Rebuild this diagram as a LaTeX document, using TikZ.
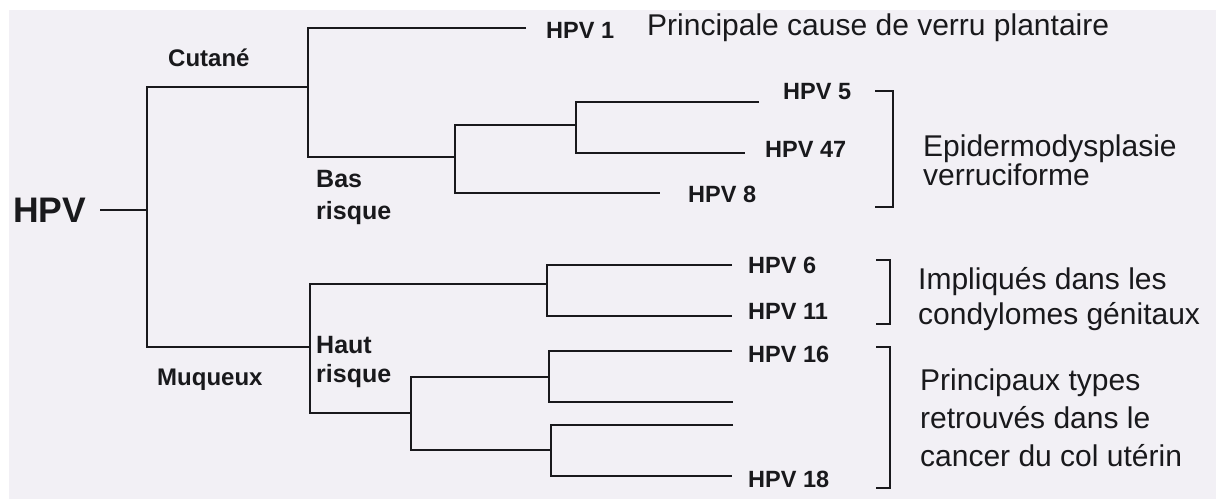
\documentclass[tikz,border=0pt]{standalone}
\usepackage{fontspec}
\setmainfont{Liberation Sans}
\definecolor{paper}{RGB}{242,240,245}
\definecolor{ink}{RGB}{25,25,28}
\tikzset{
  br/.style={draw=ink, line width=2pt},
  leaflab/.style={inner sep=0pt, anchor=base west, text=ink, font=\fontsize{23.5}{28}\selectfont\bfseries},
  grplab/.style={inner sep=0pt, anchor=base west, text=ink, font=\fontsize{24}{28}\selectfont\bfseries},
  risklab/.style={inner sep=0pt, anchor=base west, text=ink, font=\fontsize{25}{30}\selectfont\bfseries},
  desc/.style={inner sep=0pt, anchor=base west, text=ink, font=\fontsize{30}{36}\selectfont},
  rootlab/.style={inner sep=0pt, anchor=base west, text=ink, font=\fontsize{35.5}{40}\selectfont\bfseries}
}
\begin{document}
\begin{tikzpicture}[x=1pt,y=-1pt]
\useasboundingbox (0,0) rectangle (1216,499);
\fill[white] (0,0) rectangle (1216,499);
\fill[paper] (9,10) rectangle (1216,499);

% root
\node[rootlab] (hpv) at (13,222) {HPV};
\coordinate (r0) at (100,210);
\coordinate (n0) at (147,210);
\coordinate (n0t) at (147,87);
\coordinate (n0b) at (147,347);
\draw[br] (r0) -- (n0);

% cutane
\coordinate (n1) at (308,87);
\coordinate (n1t) at (308,28);
\coordinate (n1b) at (308,157);
\coordinate (e1) at (526,28);
\coordinate (n2) at (455,157);
\coordinate (n2t) at (455,125);
\coordinate (n2b) at (455,193);
\coordinate (n3) at (576,125);
\coordinate (n3t) at (576,102);
\coordinate (n3b) at (576,153);
\coordinate (e5) at (759,102);
\coordinate (e47) at (745,153);
\coordinate (e8) at (660,193);

% muqueux
\coordinate (n4) at (310,347);
\coordinate (n4t) at (310,284);
\coordinate (n4b) at (310,413);
\coordinate (n5) at (547,284);
\coordinate (n5b) at (547,316);
\coordinate (e6) at (732,265);
\coordinate (e11) at (732,316);
\coordinate (n6) at (411,413);
\coordinate (n6t) at (411,377);
\coordinate (n6b) at (411,450);
\coordinate (n7) at (549,377);
\coordinate (n7b) at (549,402);
\coordinate (e16) at (732,351);
\coordinate (ex1) at (733,402);
\coordinate (n8) at (551,450);
\coordinate (n8b) at (551,476);
\coordinate (ex2) at (733,425);
\coordinate (e18) at (732,476);

\draw[br] (n1) -- (n0t) -- (n0b) -- (n4);
\draw[br] (e1) -| (n1b) -- (n2);
\draw[br] (n3) -- (n2t) -- (n2b) -- (e8);
\draw[br] (e5) -| (n3b) -- (e47);
\draw[br] (n5) -- (n4t) -- (n4b) -- (n6);
\draw[br] (e6) -| (n5b) -- (e11);
\draw[br] (n7) -- (n6t) -- (n6b) -- (n8);
\draw[br] (e16) -| (n7b) -- (ex1);
\draw[br] (ex2) -| (n8b) -- (e18);

% group labels
\node[grplab] (cut) at (168,66) {Cutané};
\node[grplab] (muq) at (157,385) {Muqueux};
\node[risklab] (bas1) at (316,187) {Bas};
\node[risklab] (bas2) at (316,219) {risque};
\node[risklab] (haut1) at (316,353) {Haut};
\node[risklab] (haut2) at (316,382) {risque};

% leaf labels
\node[leaflab] (l1) at (546,38) {HPV 1};
\node[leaflab] (l5) at (783,99) {HPV 5};
\node[leaflab] (l47) at (765,157) {HPV 47};
\node[leaflab] (l8) at (688,202) {HPV 8};
\node[leaflab] (l6) at (748,273) {HPV 6};
\node[leaflab] (l11) at (748,319) {HPV 11};
\node[leaflab] (l16) at (748,362) {HPV 16};
\node[leaflab] (l18) at (748,487) {HPV 18};

% brackets
\coordinate (b1a) at (875,91);
\coordinate (b1c) at (893,207);
\coordinate (b1d) at (875,207);
\draw[br, line width=1.7pt] (b1a) -| (b1c) -- (b1d);
\coordinate (b2a) at (876,260);
\coordinate (b2c) at (890,324);
\coordinate (b2d) at (876,324);
\draw[br, line width=1.7pt] (b2a) -| (b2c) -- (b2d);
\coordinate (b3a) at (876,347);
\coordinate (b3c) at (890,488);
\coordinate (b3d) at (876,488);
\draw[br, line width=1.7pt] (b3a) -| (b3c) -- (b3d);

% descriptions
\node[desc] (d1) at (647,35) {Principale cause de verru plantaire};
\node[desc] (d2a) at (923,156) {Epidermodysplasie};
\node[desc] (d2b) at (923,185) {verruciforme};
\node[desc] (d3a) at (918,289) {Impliqués dans les};
\node[desc] (d3b) at (918,324) {condylomes génitaux};
\node[desc] (d4a) at (920,390) {Principaux types};
\node[desc] (d4b) at (920,428) {retrouvés dans le};
\node[desc] (d4c) at (920,466) {cancer du col utérin};
\end{tikzpicture}
\end{document}
